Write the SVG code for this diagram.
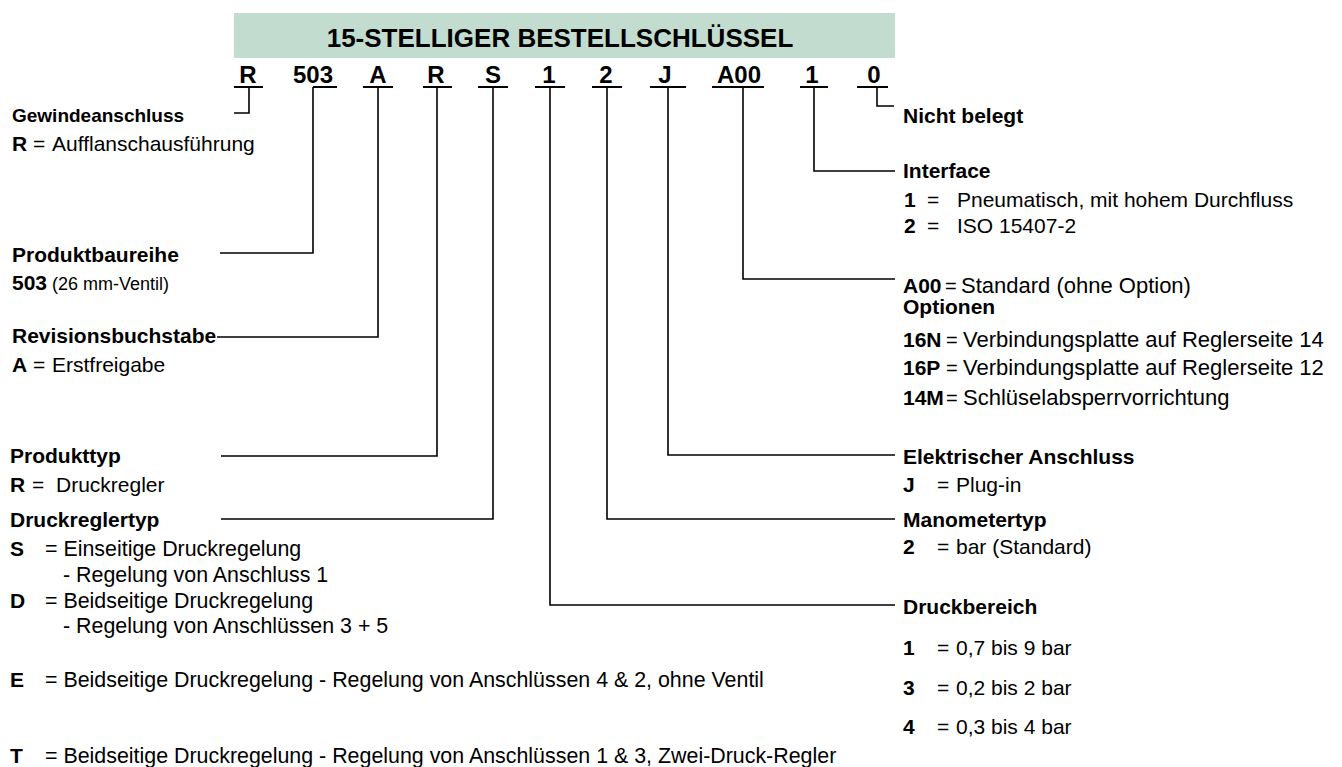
<svg xmlns="http://www.w3.org/2000/svg" width="1342" height="767" viewBox="0 0 1342 767">
<style>
text{font-family:"Liberation Sans",Arial,Helvetica,sans-serif;fill:#000}
.t{font-size:21px}
.tl{font-size:21.4px}
.tx{font-size:22px}
.b{font-weight:bold}
.k{font-weight:bold;font-size:21px}
.e{font-size:20px}
.s19{font-size:19px}
.s18{font-size:18px}
.code{font-size:24px;font-weight:bold;text-anchor:middle}
.title{font-size:26px;font-weight:bold;text-anchor:middle}
.ul{stroke:#000;stroke-width:2.2;fill:none}
.ln{stroke:#000;stroke-width:1.6;fill:none}
</style>
<rect width="1342" height="767" fill="#fff"/>
<g id="header">
<rect x="234" y="13" width="661" height="45" fill="#c2ddd0"/>
<text class="title" x="560" y="47">15-STELLIGER BESTELLSCHLÜSSEL</text>
</g>
<g id="code">
<text class="code" x="248" y="83">R</text>
<text class="code" x="313" y="83">503</text>
<text class="code" x="378" y="83">A</text>
<text class="code" x="436" y="83">R</text>
<text class="code" x="493" y="83">S</text>
<text class="code" x="549" y="83">1</text>
<text class="code" x="606" y="83">2</text>
<text class="code" x="665" y="83">J</text>
<text class="code" x="739" y="83">A00</text>
<text class="code" x="812" y="83">1</text>
<text class="code" x="874" y="83">0</text>
<path class="ul" d="M234 87H263M313 87H337M363 87H393M423 87H452M478 87H508M535 87H565M592 87H622M650 87H686M712 87H764M800 87H828M857 87H888"/>
</g>
<g id="connectors">
<path class="ln" d="M249 87V113H234"/>
<path class="ln" d="M313 87V253H220"/>
<path class="ln" d="M378 87V337H217"/>
<path class="ln" d="M437 87V456H221"/>
<path class="ln" d="M493 87V519H221"/>
<path class="ln" d="M550 87V605H895"/>
<path class="ln" d="M607 87V519H895"/>
<path class="ln" d="M668 87V455H895"/>
<path class="ln" d="M743 87V279H895"/>
<path class="ln" d="M814 87V171H895"/>
<path class="ln" d="M877 87V106H894"/>
</g>
<g id="gewindeanschluss">
<text class="s19 b" x="12" y="122">Gewindeanschluss</text>
<text class="t" y="151"><tspan class="b" x="12">R</tspan><tspan x="33">=</tspan><tspan x="52">Aufflanschausführung</tspan></text>
</g>
<g id="produktbaureihe">
<text class="t b" x="12" y="262">Produktbaureihe</text>
<text y="290"><tspan class="t b" x="12">503</tspan><tspan class="s18" x="52">(26 mm-Ventil)</tspan></text>
</g>
<g id="revisionsbuchstabe">
<text class="t b" x="12" y="343">Revisionsbuchstabe</text>
<text class="t" y="372"><tspan class="b" x="12">A</tspan><tspan x="33">=</tspan><tspan x="52">Erstfreigabe</tspan></text>
</g>
<g id="produkttyp">
<text class="t b" x="10" y="463">Produkttyp</text>
<text class="t" y="492"><tspan class="b" x="10">R</tspan><tspan x="32">=</tspan><tspan x="56">Druckregler</tspan></text>
</g>
<g id="druckreglertyp">
<text class="t b" x="10" y="527">Druckreglertyp</text>
<text class="tl" y="556"><tspan class="k" x="10">S</tspan><tspan x="45">= Einseitige Druckregelung</tspan></text>
<text class="tl" x="63" y="582">- Regelung von Anschluss 1</text>
<text class="tl" y="608"><tspan class="k" x="10">D</tspan><tspan x="45">= Beidseitige Druckregelung</tspan></text>
<text class="tl" x="63" y="633">- Regelung von Anschlüssen 3 + 5</text>
<text class="tl" y="687"><tspan class="k" x="10">E</tspan><tspan x="45">= Beidseitige Druckregelung - Regelung von Anschlüssen 4 &amp; 2, ohne Ventil</tspan></text>
<text class="tl" y="763"><tspan class="k" x="10">T</tspan><tspan x="45">= Beidseitige Druckregelung - Regelung von Anschlüssen 1 &amp; 3, Zwei-Druck-Regler</tspan></text>
</g>
<g id="nichtbelegt">
<text class="t b" x="903" y="123">Nicht belegt</text>
</g>
<g id="interface">
<text class="t b" x="903" y="178">Interface</text>
<text class="t" y="207"><tspan class="b" x="904">1</tspan><tspan x="927">=</tspan><tspan x="957">Pneumatisch, mit hohem Durchfluss</tspan></text>
<text class="t" y="233"><tspan class="b" x="904">2</tspan><tspan x="927">=</tspan><tspan x="957">ISO 15407-2</tspan></text>
</g>
<g id="optionen">
<text class="tx" y="293"><tspan class="k" x="903">A00</tspan><tspan class="e" x="945">=</tspan><tspan x="961">Standard (ohne Option)</tspan></text>
<text class="t b" x="903" y="314">Optionen</text>
<text class="tx" y="347"><tspan class="k" x="903">16N</tspan><tspan class="e" x="946">=</tspan><tspan x="963">Verbindungsplatte auf Reglerseite 14</tspan></text>
<text class="tx" y="375"><tspan class="k" x="903">16P</tspan><tspan class="e" x="946">=</tspan><tspan x="963">Verbindungsplatte auf Reglerseite 12</tspan></text>
<text class="tx" y="405"><tspan class="k" x="903">14M</tspan><tspan class="e" x="946">=</tspan><tspan x="963">Schlüselabsperrvorrichtung</tspan></text>
</g>
<g id="elektrisch">
<text class="t b" x="903" y="464">Elektrischer Anschluss</text>
<text class="t" y="492"><tspan class="b" x="903">J</tspan><tspan x="937">=</tspan><tspan x="956">Plug-in</tspan></text>
</g>
<g id="manometertyp">
<text class="t b" x="903" y="527">Manometertyp</text>
<text class="t" y="554"><tspan class="b" x="903">2</tspan><tspan x="937">=</tspan><tspan x="956">bar (Standard)</tspan></text>
</g>
<g id="druckbereich">
<text class="t b" x="903" y="614">Druckbereich</text>
<text class="t" y="655"><tspan class="b" x="903">1</tspan><tspan x="937">=</tspan><tspan x="956">0,7 bis 9 bar</tspan></text>
<text class="t" y="695"><tspan class="b" x="903">3</tspan><tspan x="937">=</tspan><tspan x="956">0,2 bis 2 bar</tspan></text>
<text class="t" y="734"><tspan class="b" x="903">4</tspan><tspan x="937">=</tspan><tspan x="956">0,3 bis 4 bar</tspan></text>
</g>
</svg>
